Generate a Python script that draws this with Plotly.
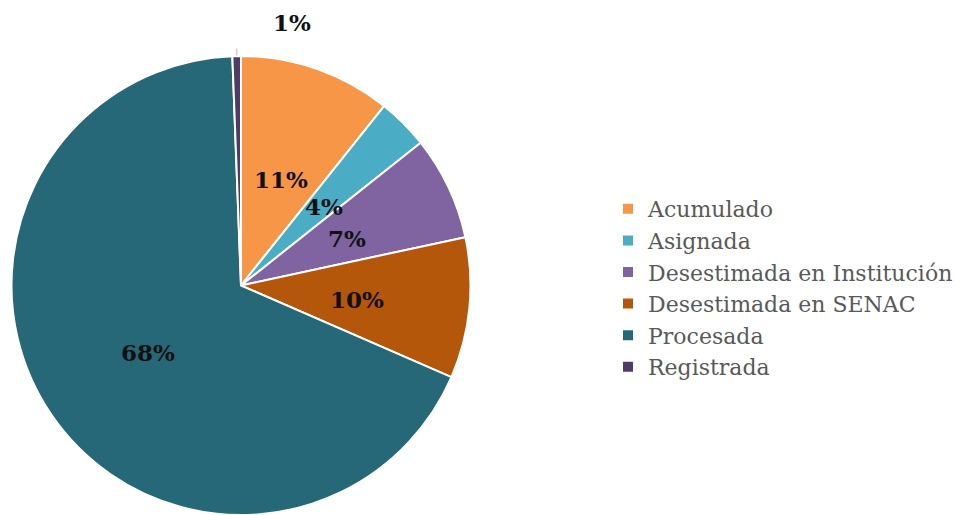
import numpy as np
import plotly.graph_objects as go

categories = ["Acumulado", "Asignada", "Desestimada en Institución",
              "Desestimada en SENAC", "Procesada", "Registrada"]
values = [10.7, 3.6, 7.3, 9.9, 67.8, 0.6]
colors = ["#F79646", "#4BACC6", "#8064A2", "#B5570A", "#276878", "#4E3B6C"]

W, H = 963, 515
MT, MB = 48, 8
PH = H - MT - MB
CX_PX, CY_PX, R_PX = 233.0, 277.0, 229.5

fig = go.Figure(go.Pie(
    labels=categories,
    values=values,
    sort=False,
    direction="clockwise",
    rotation=0,
    marker=dict(colors=colors, line=dict(color="white", width=2)),
    textinfo="none",
    automargin=False,
    domain=dict(x=[(CX_PX - R_PX) / W, (CX_PX + R_PX) / W], y=[0, 1]),
    hoverinfo="label+percent",
))

# percentage labels derived from the data (placed at half radius, like the original)
vals = np.array(values, dtype=float)
pct = vals / vals.sum()
cum = np.cumsum(pct) - pct / 2
theta = cum * 2 * np.pi  # clockwise from 12 o'clock


def to_paper(px, py):
    return px / W, (H - MB - py) / PH


label_font = dict(family="DejaVu Serif", size=23, color="#111111")
for i, (p, t) in enumerate(zip(pct, theta)):
    txt = "<b>{:.0f}%</b>".format(p * 100)
    if i == len(values) - 1:
        # small slice: label outside with leader line
        ex = CX_PX + R_PX * np.sin(t)
        ey = CY_PX - R_PX * np.cos(t)
        x0, y0 = to_paper(ex, ey)
        fig.add_annotation(x=x0, y=y0, xref="paper", yref="paper", text=" ",
                           showarrow=True, arrowhead=0, ax=0, ay=-17,
                           arrowcolor="#D0D0D0", arrowwidth=1.5)
        fig.add_annotation(x=x0, y=y0, xref="paper", yref="paper", text=txt,
                           xanchor="center", yanchor="middle",
                           showarrow=False, xshift=55, yshift=33, font=label_font)
    else:
        lx = CX_PX + 0.5 * R_PX * np.sin(t)
        ly = CY_PX - 0.5 * R_PX * np.cos(t)
        x0, y0 = to_paper(lx, ly)
        fig.add_annotation(x=x0, y=y0, xref="paper", yref="paper", text=txt,
                           xanchor="center", yanchor="middle",
                           xshift=2, yshift=-3,
                           showarrow=False, font=label_font)

fig.update_layout(
    width=W, height=H,
    margin=dict(l=0, r=0, t=MT, b=MB),
    paper_bgcolor="white",
    plot_bgcolor="white",
    showlegend=True,
    legend=dict(
        x=600 / W, y=(H - MB - 180) / PH, xanchor="left", yanchor="top",
        font=dict(family="DejaVu Serif", size=22, color="#595959"),
        bgcolor="rgba(0,0,0,0)",
        itemwidth=30,
    ),
)

fig.write_html("out.html")
